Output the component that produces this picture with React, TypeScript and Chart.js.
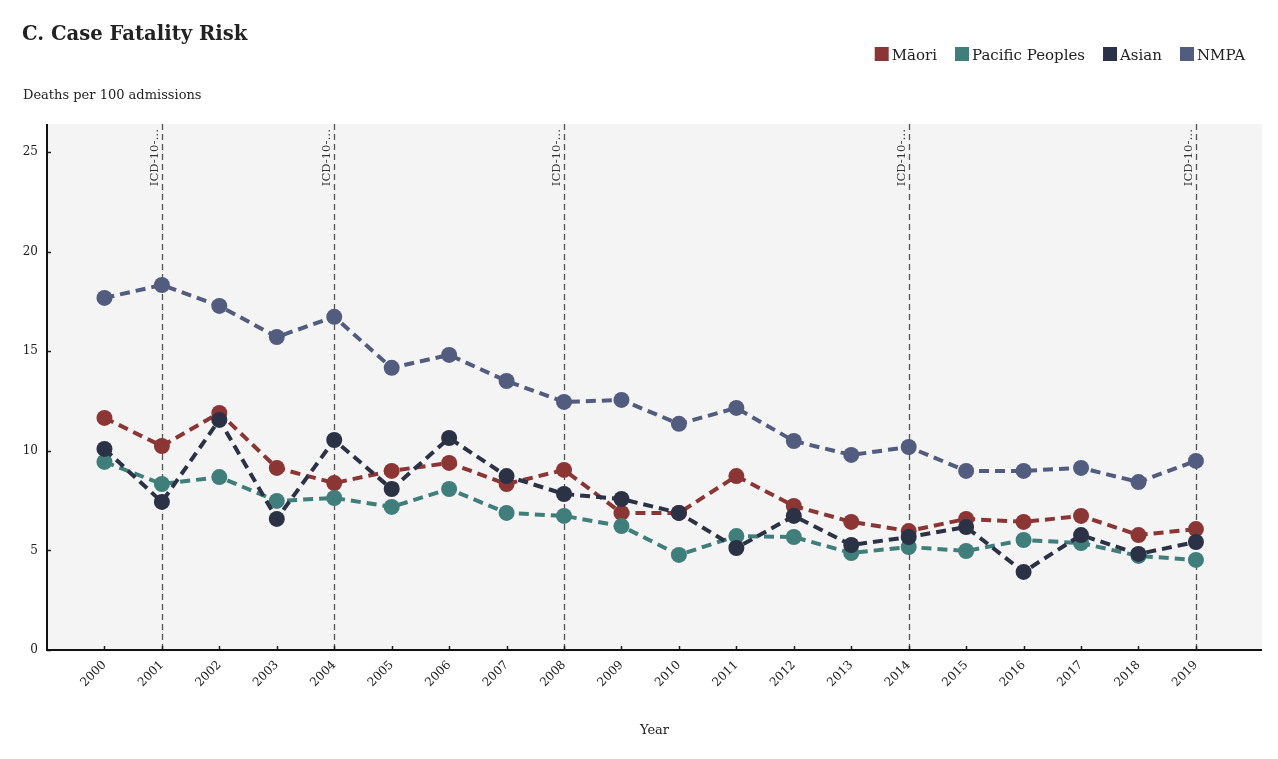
import React, { useEffect, useRef } from "react";
import { Chart, registerables } from "chart.js";

Chart.register(...registerables);

const years = [2000, 2001, 2002, 2003, 2004, 2005, 2006, 2007, 2008, 2009, 2010, 2011, 2012, 2013, 2014, 2015, 2016, 2017, 2018, 2019];
const maori = [11.65, 10.24, 11.9, 9.14, 8.38, 8.99, 9.39, 8.33, 9.04, 6.88, 6.88, 8.73, 7.23, 6.43, 5.97, 6.58, 6.43, 6.73, 5.77, 6.07];
const pacific = [9.44, 8.33, 8.68, 7.48, 7.63, 7.18, 8.08, 6.88, 6.73, 6.22, 4.77, 5.72, 5.67, 4.87, 5.17, 4.97, 5.52, 5.37, 4.72, 4.52];
const asian = [10.09, 7.43, 11.55, 6.58, 10.54, 8.08, 10.64, 8.73, 7.83, 7.58, 6.88, 5.12, 6.73, 5.27, 5.67, 6.17, 3.92, 5.77, 4.82, 5.42];
const nmpa = [17.67, 18.32, 17.27, 15.71, 16.72, 14.16, 14.81, 13.5, 12.45, 12.55, 11.35, 12.15, 10.49, 9.79, 10.19, 8.99, 8.99, 9.14, 8.43, 9.49];
const seriesNames = ["Māori", "Pacific Peoples", "Asian", "NMPA"];
const seriesColors = ["#8b3535", "#3f7e7b", "#2b3245", "#525c7e"];
const icdYears = [2001, 2004, 2008, 2014, 2019];
const icdLabel = "ICD-10-…";
const yTicks = [0, 5, 10, 15, 20, 25];
const titleText = "C. Case Fatality Risk";
const subtitleText = "Deaths per 100 admissions";
const xTitle = "Year";

const FONT = "'DejaVu Serif', serif";

const decor = {
  id: "decor",
  beforeDraw(chart: any) {
    const { ctx, chartArea: a } = chart;
    ctx.save();
    ctx.fillStyle = "#ffffff";
    ctx.fillRect(0, 0, chart.width, chart.height);
    ctx.fillStyle = "#f4f4f4";
    ctx.fillRect(a.left, a.top, a.right - a.left, a.bottom - a.top);
    ctx.restore();
  },
  beforeDatasetsDraw(chart: any) {
    const { ctx, chartArea: a } = chart;
    const xs = chart.scales.x;
    ctx.save();
    icdYears.forEach((yr) => {
      const x = Math.round(xs.getPixelForValue(yr)) + 0.5;
      ctx.strokeStyle = "#555555";
      ctx.lineWidth = 1.3;
      ctx.setLineDash([6, 4]);
      ctx.beginPath();
      ctx.moveTo(x, a.top);
      ctx.lineTo(x, a.bottom);
      ctx.stroke();
      ctx.setLineDash([]);
      ctx.save();
      ctx.translate(x - 5, a.top + 5);
      ctx.rotate(-Math.PI / 2);
      ctx.fillStyle = "#333333";
      ctx.font = `11.6px ${FONT}`;
      ctx.textAlign = "right";
      ctx.textBaseline = "alphabetic";
      ctx.fillText(icdLabel, 0, 0);
      ctx.restore();
    });
    ctx.restore();
  },
  afterDraw(chart: any) {
    const { ctx, chartArea: a } = chart;
    const xs = chart.scales.x;
    const ys = chart.scales.y;
    ctx.save();
    ctx.strokeStyle = "#222";
    ctx.lineWidth = 1.5;
    years.forEach((yr) => {
      const x = Math.round(xs.getPixelForValue(yr)) + 0.5;
      ctx.beginPath();
      ctx.moveTo(x, a.bottom);
      ctx.lineTo(x, a.bottom - 4);
      ctx.stroke();
    });
    yTicks.forEach((v) => {
      const y = Math.round(ys.getPixelForValue(v)) + 0.5;
      ctx.beginPath();
      ctx.moveTo(a.left, y);
      ctx.lineTo(a.left + 4, y);
      ctx.stroke();
    });
    ctx.strokeStyle = "#111";
    ctx.lineWidth = 2;
    ctx.beginPath();
    ctx.moveTo(a.left, a.top);
    ctx.lineTo(a.left, a.bottom);
    ctx.lineTo(a.right, a.bottom);
    ctx.stroke();
    ctx.fillStyle = "#222";
    ctx.textAlign = "left";
    ctx.textBaseline = "alphabetic";
    ctx.font = `bold 19.6px ${FONT}`;
    ctx.fillText(titleText, 22, 40);
    ctx.font = `13px ${FONT}`;
    ctx.fillText(subtitleText, 23, 99);
    ctx.font = `15px ${FONT}`;
    let xr = 1245;
    for (let i = seriesNames.length - 1; i >= 0; i--) {
      const w = ctx.measureText(seriesNames[i]).width;
      const tx = xr - w;
      ctx.fillStyle = "#222";
      ctx.fillText(seriesNames[i], tx, 60);
      ctx.fillStyle = seriesColors[i];
      ctx.fillRect(tx - 17, 47, 14, 14);
      xr = tx - 17 - 18;
    }
    ctx.restore();
  },
};

export default function App() {
  const ref = useRef<HTMLCanvasElement | null>(null);
  useEffect(() => {
    if (!ref.current) return;
    const all = [maori, pacific, asian, nmpa];
    const chart = new Chart(ref.current, {
      type: "line",
      data: {
        datasets: all.map((vals, i) => ({
          label: seriesNames[i],
          data: vals.map((v, j) => ({ x: years[j], y: v })),
          borderColor: seriesColors[i],
          backgroundColor: seriesColors[i],
          pointBackgroundColor: seriesColors[i],
          pointBorderWidth: 0,
          pointRadius: 8,
          pointHoverRadius: 8,
          borderWidth: 4,
          borderDash: [10, 6],
          fill: false,
          tension: 0,
          order: 4 - i,
        })),
      },
      options: {
        responsive: false,
        maintainAspectRatio: false,
        animation: false,
        devicePixelRatio: 1,
        layout: { padding: { top: 124, right: 16, left: 0, bottom: 0 } },
        plugins: {
          legend: { display: false },
          title: { display: false },
          tooltip: { enabled: false },
        },
        scales: {
          x: {
            type: "linear",
            min: 1999,
            max: 2020.15,
            grid: { display: false, drawTicks: false },
            border: { display: false },
            afterBuildTicks: (s: any) => {
              s.ticks = years.map((v) => ({ value: v }));
            },
            afterFit: (s: any) => {
              s.height = 109;
            },
            ticks: {
              autoSkip: false,
              minRotation: 45,
              maxRotation: 45,
              padding: 8,
              color: "#222",
              font: { family: FONT, size: 12 },
              callback: (v: any) => String(v),
            },
            title: {
              display: true,
              text: xTitle,
              color: "#222",
              font: { family: FONT, size: 13 },
              padding: { top: 4, bottom: 21 },
            },
          },
          y: {
            type: "linear",
            min: 0,
            max: 26.4,
            grid: { display: false, drawTicks: false },
            border: { display: false },
            afterBuildTicks: (s: any) => {
              s.ticks = yTicks.map((v) => ({ value: v }));
            },
            afterFit: (s: any) => {
              s.width = 47;
            },
            ticks: {
              padding: 9,
              color: "#222",
              font: { family: FONT, size: 12 },
              callback: (v: any) => String(v),
            },
          },
        },
      },
      plugins: [decor],
    });
    return () => chart.destroy();
  }, []);
  return (
    <div style={{ position: "absolute", left: 0, top: 0, width: 1278, height: 759 }}>
      <canvas ref={ref} width={1278} height={759} />
    </div>
  );
}
